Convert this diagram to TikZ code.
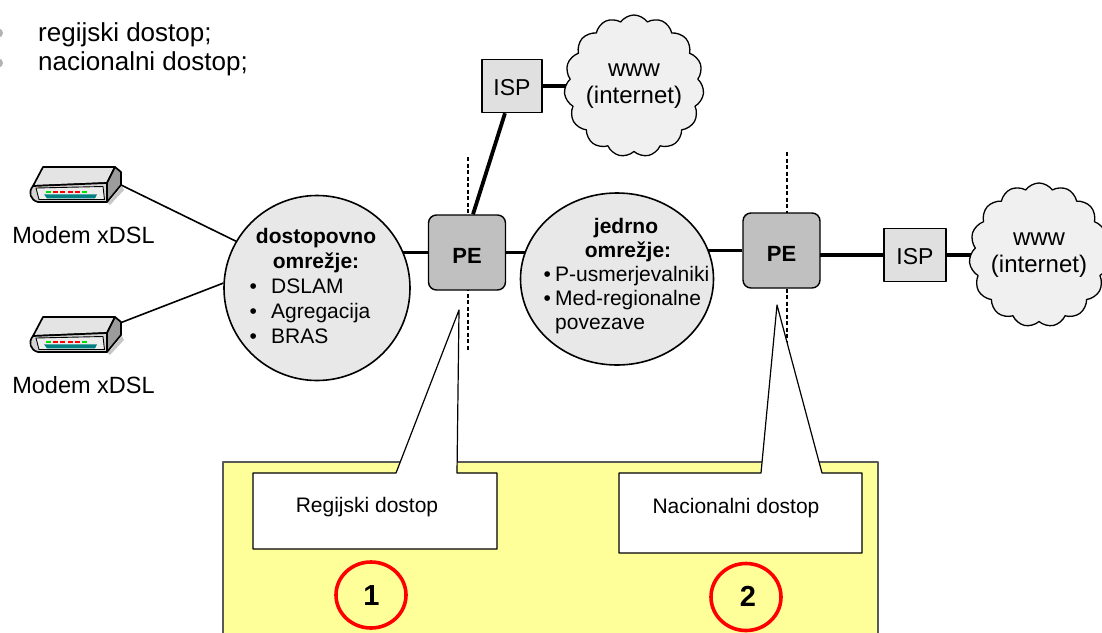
\documentclass[tikz,border=0pt]{standalone}
\usepackage{fontspec}
\setmainfont{Liberation Sans}
\usetikzlibrary{shapes.geometric,shapes.symbols,backgrounds,calc}
\definecolor{pefill}{HTML}{C0C0C0}
\definecolor{ispfill}{HTML}{E0E0E0}
\definecolor{ellfill}{HTML}{E8E8E8}
\definecolor{cloudfill}{HTML}{F0F0F0}
\definecolor{yellowbg}{HTML}{FFFF99}
\definecolor{tealbar}{HTML}{008080}
\definecolor{ledgreen}{HTML}{00E000}
\definecolor{ledred}{HTML}{FF0000}
\definecolor{mtop}{HTML}{E4E4E4}
\definecolor{mfront}{HTML}{D4D4D4}
\definecolor{mside}{HTML}{9C9C9C}
\definecolor{mpanel}{HTML}{EDEDED}
\newcommand\fsz[1]{\fontsize{#1}{#1}\selectfont}
\newcommand\modemicon[2]{%
\begin{scope}[shift={(0,#1)}]
  \fill[gray!45] (108,203) -- (122,186) -- (124,190) -- (110,205) -- cycle;
  \filldraw[modemline, fill=mtop] (43,167) -- (115,167) -- (107,183) -- (33,186) -- cycle;
  \filldraw[modemline, fill=mside] (107,183) -- (115,167) -- (121,172) -- (121,185) -- (107,202) -- cycle;
  \filldraw[modemline, fill=mfront] (33,186) -- (107,183) -- (107,202) -- (38,202) .. controls (30,200) and (28,192) .. (33,186) -- cycle;
  \filldraw[fill=mpanel, draw=black, line width=0.9pt] (36,188) -- (103,186.5) -- (104.5,199.5) -- (39,199.5) -- cycle;
  \foreach \c [count=\i from 0] in {ledgreen,ledred,ledred,ledred,ledred,ledgreen}
    \fill[\c] ({46+7.2*\i},190.6) rectangle ++(5,2.4);
  \fill[tealbar] (44,194.3) -- (97,194.3) -- (95,198.3) -- (47,198.3) -- cycle;
  \coordinate (#2-mid) at (121,185);
  \coordinate (#2-up) at (120,173);
\end{scope}}
\begin{document}
\begin{tikzpicture}[x=1pt,y=-1pt,line join=round,
  modemline/.style={draw=black, line width=1.7pt},
  conn/.style={line width=3.8pt},
  thinconn/.style={line width=1.6pt},
  cutline/.style={line width=1.5pt, dash pattern=on 4pt off 2.5pt},
  pebox/.style={draw, line width=1.4pt, fill=pefill, rounded corners=8pt,
    minimum width=77pt, minimum height=75pt, inner sep=0pt,
    text height=22pt, text depth=0pt, font=\fsz{22}\bfseries},
  ispbox/.style={draw, line width=1.4pt, fill=ispfill, minimum width=60pt,
    minimum height=53pt, inner sep=0pt, text height=19pt, text depth=0pt, font=\fsz{23}},
  netell/.style={ellipse, draw, line width=1.6pt, fill=ellfill, inner sep=0pt},
  netcloud/.style={cloud, cloud puffs=15, cloud puff arc=110, cloud ignores aspect,
    draw, line width=1.3pt, fill=cloudfill, inner sep=0pt, align=center,
    font=\fontsize{24}{27}\selectfont},
  txt/.style={inner sep=0pt, anchor=base},
  elltxt/.style={inner sep=0pt, anchor=base, font=\fsz{21}},
  callout/.style={fill=white, draw=black, line width=1.2pt},
  numring/.style={ellipse, draw=red, line width=3.6pt, inner sep=0pt}
]
\useasboundingbox (0,0) rectangle (1102,632);

% top bullet list
\fill[gray!60] (-1.5,33) circle[radius=4.5pt];
\fill[gray!60] (-1.5,63) circle[radius=4.5pt];
\node[txt, anchor=base west, font=\fsz{26}] (t1) at (38,41) {regijski dostop;};
\node[txt, anchor=base west, font=\fsz{26}] (t2) at (38,70) {nacionalni dostop;};

% lower yellow panel with callouts
\filldraw[fill=yellowbg, draw=gray!70!black, line width=1.2pt] (223,462) rectangle (878,640);
\filldraw[callout] (253,473) -- (396,473) -- (459,310) -- (457,473) -- (497,473) -- (497,549) -- (253,549) -- cycle;
\filldraw[callout] (619,473) -- (761,473) -- (777,305) -- (822,473) -- (862,473) -- (862,553) -- (619,553) -- cycle;
\node[txt, font=\fsz{21}] (r1) at (367,512) {Regijski dostop};
\node[txt, font=\fsz{21}] (r2) at (736,513) {Nacionalni dostop};
\node[numring, minimum width=70pt, minimum height=66pt] (c1) at (371,595) {};
\node[numring, minimum width=70pt, minimum height=67pt] (c2) at (746,597) {};
\node[txt, font=\fsz{29}\bfseries] (n1) at (371.5,605) {1};
\node[txt, font=\fsz{29}\bfseries] (n2) at (748,606) {2};

% modems
\modemicon{0}{mA}
\modemicon{150}{mB}
\node[txt, font=\fsz{23.5}] (ml1) at (83.5,243) {Modem xDSL};
\node[txt, font=\fsz{23.5}] (ml2) at (83.5,393) {Modem xDSL};

% networks
\node[netell, minimum width=186pt, minimum height=185pt] (acc) at (317,288) {};
\node[elltxt, font=\fsz{21}\bfseries] (a1) at (316,243.5) {dostopovno};
\node[elltxt, font=\fsz{21}\bfseries] (a2) at (316,268.5) {omrežje:};
\node[elltxt, anchor=base west] (a3) at (249.5,293) {\makebox[21.5pt][l]{\textbullet}DSLAM};
\node[elltxt, anchor=base west] (a4) at (249.5,318) {\makebox[21.5pt][l]{\textbullet}Agregacija};
\node[elltxt, anchor=base west] (a5) at (249.5,343) {\makebox[21.5pt][l]{\textbullet}BRAS};

\node[netell, minimum width=193pt, minimum height=172pt] (core) at (617,279) {};
\node[elltxt, font=\fsz{21}\bfseries] (b1) at (626,233) {jedrno};
\node[elltxt, font=\fsz{21}\bfseries] (b2) at (628,257) {omrežje:};
\node[elltxt, anchor=base west] (b3) at (543.5,281) {\makebox[11.5pt][l]{\textbullet}P-usmerjevalniki};
\node[elltxt, anchor=base west] (b4) at (543.5,305) {\makebox[11.5pt][l]{\textbullet}Med-regionalne};
\node[elltxt, anchor=base west] (b5) at (555,329) {povezave};

\node[pebox] (pe1) at (467,252.5) {PE};
\node[pebox] (pe2) at (781.5,250.5) {PE};
\node[ispbox] (isp1) at (512,86) {ISP};
\node[ispbox, minimum width=62pt] (isp2) at (915,255) {ISP};

\node[netcloud, minimum width=138pt, minimum height=142pt] (cl1) at (634,86) {www\\(internet)};
\node[netcloud, minimum width=127pt, minimum height=144pt] (cl2) at (1039,255) {www\\(internet)};

\coordinate (d1t) at (468,157);
\coordinate (d1b) at (468,350);
\coordinate (d2t) at (787,152);
\coordinate (d2b) at (787,350);

\begin{scope}[on background layer]
  \draw[cutline] (d1t) -- (d1b);
  \draw[cutline] (d2t) -- (d2b);
  \draw[thinconn] (mA-mid) -- (acc.150);
  \draw[thinconn] (mB-up) -- (acc.177);
  \draw[conn] (pe1.west) -- (pe1.west -| acc.center);
  \draw[conn] (pe1.east) -- (pe1.east -| core.center);
  \draw[conn] (pe2.west) -- (pe2.west -| core.center);
  \draw[conn] (isp2.west) -- (isp2.west -| pe2.center);
  \draw[conn] (isp2.east) -- (isp2.east -| cl2.center);
  \draw[conn] (isp1.east) -- (isp1.east -| cl1.center);
  \draw[conn] ($(pe1.north)+(6,0)$) -- ($(isp1.south)+(-7,0)$);
\end{scope}
\end{tikzpicture}
\end{document}
